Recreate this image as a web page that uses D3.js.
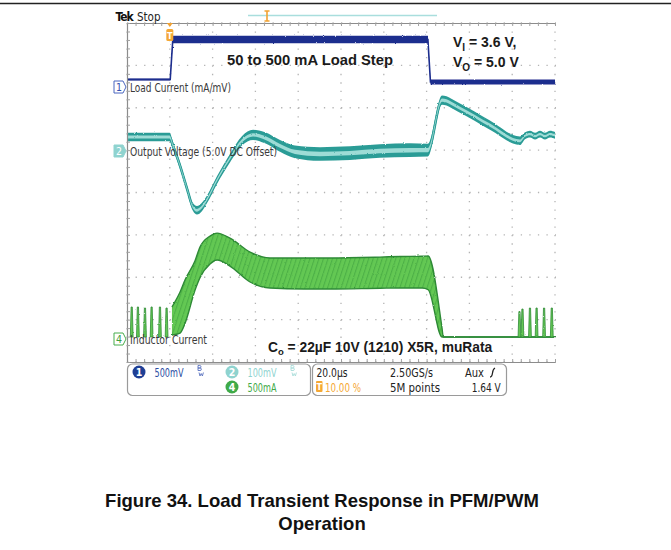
<!DOCTYPE html>
<html><head><meta charset="utf-8">
<script src="https://cdn.jsdelivr.net/npm/d3@7"></script>
<style>
html,body{margin:0;padding:0;background:#fff;}
svg{display:block;}
</style></head><body>
<svg id="c" width="671" height="550"></svg>
<script>
// ---------------- DATA ----------------
// time in µs (20 µs/div, trigger at 10 %)
// Channel 1 : load current (mA)
const ch1Time    = [-19.5, 0.2, 1.4, 120.6, 121.8, 180];
const ch1Current = [88, 88, 560, 560, 59, 59];
const ch1Noise   = [12, 12, 45, 45, 30, 30];
// Channel 2 : output voltage deviation from 5.0 V (mV)
const ch2Time  = [-19.5, -0.1, 1.5, 4.8, 8.0, 10.8, 12.7, 15.0, 17.4, 22.1, 28.1, 33.7, 38.9, 44.5, 51.5, 58.5, 70.2, 84.2, 98.2, 112.2, 120.6, 127.2, 135.6, 149.6, 163.6, 166.0, 168.3, 170.7, 173.0, 175.3, 177.7, 180];
const ch2Volt  = [33, 33, 12, -35, -88, -132, -140, -132, -114, -68, -17, 24, 38, 31, 12, -2, -7, -5, 0, 2, 2, 120, 101, 61, 24, 36, 40, 35, 40, 35, 40, 37];
const ch2Noise = [10, 10, 9, 8, 8, 9, 10, 10, 9, 9, 10, 11, 12, 13, 14, 15, 16, 16, 16, 16, 15, 11, 11, 11, 10, 8, 8, 8, 8, 8, 8, 8];
// Channel 4 : inductor current envelope (mA)
const ch4Time  = [1.0, 4.8, 7.1, 11.8, 14.1, 18.8, 22.1, 28.1, 37.5, 46.8, 62.7, 74.9, 98.2, 107.6, 117.9, 120.7, 127.2, 127.8, 180];
const ch4Upper = [354, 531, 672, 900, 1061, 1191, 1226, 1167, 1002, 932, 932, 932, 943, 950, 953, 955, 106, 0, 0];
const ch4Lower = [24, 47, 160, 554, 700, 861, 908, 837, 649, 578, 566, 566, 575, 578, 578, 560, 0, 0, 0];
// PFM pulses of the inductor current (time µs, peak mA)
const pfmTime = [-17.8, -14.9, -11.6, -8.5, -4.6, -1.5, 163.4, 164.8, 168.3, 171.4, 174.9, 178.5];
const pfmPeak = [354, 354, 342, 354, 354, 342, 300, 330, 342, 342, 342, 342];
// Readout texts
const chanIds    = ["1", "2", "4"];
const chanScales = ["500mV", "100mV", "500mA"];
const acqTexts   = ["20.0µs", "2.50GS/s", "5M points", "1.64 V"];

// ---------------- LAYOUT ----------------
const svg = d3.select("#c");
const X0 = 127, X1 = 555, Y0 = 23, Y1 = 362;
const divV = (Y1 - Y0) / 8;
const x = d3.scaleLinear().domain([-20, 180]).range([X0, X1]);
const gy = d3.scaleLinear().domain([-4, 4]).range([Y1, Y0]);
const y1 = d3.scaleLinear().domain([0, 500]).range([87, 87 - divV]);
const y2 = d3.scaleLinear().domain([0, 100]).range([151, 151 - divV]);
const y4 = d3.scaleLinear().domain([0, 500]).range([337, 337 - divV]);

const defs = svg.append("defs");
const f = defs.append("filter").attr("id", "rough").attr("x", "-5%").attr("y", "-10%").attr("width", "110%").attr("height", "120%");
f.append("feTurbulence").attr("type", "fractalNoise").attr("baseFrequency", "1.1").attr("numOctaves", 1).attr("seed", 4).attr("result", "n");
f.append("feDisplacementMap").attr("in", "SourceGraphic").attr("in2", "n").attr("scale", 2.2).attr("xChannelSelector", "R").attr("yChannelSelector", "G");
const pat = defs.append("pattern").attr("id", "hatch").attr("width", 4.3).attr("height", 8)
  .attr("patternUnits", "userSpaceOnUse").attr("patternTransform", "rotate(18)");
pat.append("rect").attr("width", 4.3).attr("height", 8).attr("fill", "#63c853");
pat.append("line").attr("x1", 0.6).attr("x2", 0.6).attr("y1", 0).attr("y2", 8).attr("stroke", "#48ab44").attr("stroke-width", 0.9);

// top rule
svg.append("line").attr("x1", 0).attr("x2", 671).attr("y1", 3.5).attr("y2", 3.5).attr("stroke", "#222").attr("stroke-width", 1.5);

// ---------------- GRID ----------------
const grid = svg.append("g");
grid.selectAll("line.v").data(d3.range(0, 11)).join("line")
  .attr("x1", k => x(-20 + 20 * k)).attr("x2", k => x(-20 + 20 * k))
  .attr("y1", Y0).attr("y2", Y1 + 1)
  .attr("stroke", "#b4b4b4").attr("stroke-width", 1.3)
  .attr("stroke-dasharray", `1.3 ${divV / 5 - 1.3}`);
grid.selectAll("line.h").data(d3.range(-4, 5)).join("line")
  .attr("x1", X0).attr("x2", X1 + 1)
  .attr("y1", k => gy(k)).attr("y2", k => gy(k))
  .attr("stroke", "#b4b4b4").attr("stroke-width", 1.3)
  .attr("stroke-dasharray", `1.3 ${(X1 - X0) / 50 - 1.3}`);

// borders with minor ticks via d3 axes
const minorT = d3.range(-20, 180.01, 4);
const topAx = svg.append("g").attr("transform", `translate(0,${Y0})`)
  .call(d3.axisBottom(x).tickValues(minorT).tickSize(3).tickSizeOuter(0).tickFormat(""));
const botAx = svg.append("g").attr("transform", `translate(0,${Y1})`)
  .call(d3.axisTop(x).tickValues(minorT).tickSize(3).tickSizeOuter(0).tickFormat(""));
const leftAx = svg.append("g").attr("transform", `translate(${X0},0)`)
  .call(d3.axisRight(gy).tickValues(d3.range(-4, 4.01, 0.2)).tickSize(3).tickSizeOuter(0).tickFormat(""));
[topAx, botAx, leftAx].forEach(a => {
  a.select(".domain").attr("stroke", "#8c8c8c").attr("stroke-width", 1.2);
  a.selectAll(".tick line").attr("stroke", "#a0a0a0");
});

// ---------------- TRACES ----------------
// Channel 4 (green)
const g4 = svg.append("g").attr("filter", "url(#rough)");
const ch4 = ch4Time.map((t, i) => ({t, u: ch4Upper[i], l: ch4Lower[i]}));
g4.append("path").datum(ch4)
  .attr("d", d3.area().x(d => x(d.t)).y0(d => y4(d.l)).y1(d => y4(d.u)).curve(d3.curveMonotoneX))
  .attr("fill", "url(#hatch)");
["u", "l"].forEach(k => g4.append("path").datum(ch4)
  .attr("d", d3.line().x(d => x(d.t)).y(d => y4(d[k])).curve(d3.curveMonotoneX))
  .attr("fill", "none").attr("stroke", "#2e8a36").attr("stroke-width", 1.4));
const pfm = pfmTime.map((t, i) => ({t, p: pfmPeak[i]}));
g4.selectAll("path.pfm").data(pfm).join("path")
  .attr("d", d => `M${x(d.t) - 1.4},${y4(0)} L${x(d.t) - 0.6},${y4(d.p)} L${x(d.t) + 0.6},${y4(d.p)} L${x(d.t) + 1.4},${y4(0)} Z`)
  .attr("fill", "#63c853").attr("stroke", "#2e8a36").attr("stroke-width", 0.8);

// Channel 2 (teal)
const g2 = svg.append("g").attr("filter", "url(#rough)");
const ch2 = ch2Time.map((t, i) => ({t, v: ch2Volt[i], n: ch2Noise[i]}));
g2.append("path").datum(ch2)
  .attr("d", d3.area().x(d => x(d.t)).y0(d => y2(d.v - d.n)).y1(d => y2(d.v + d.n)).curve(d3.curveMonotoneX))
  .attr("fill", "#2c9c96");
g2.append("path").datum(ch2)
  .attr("d", d3.line().x(d => x(d.t)).y(d => y2(d.v)).curve(d3.curveMonotoneX))
  .attr("fill", "none").attr("stroke", "#2c9c96").attr("stroke-width", 2.6);
g2.append("path").datum(ch2)
  .attr("d", d3.area().x(d => x(d.t)).y0(d => y2(d.v - d.n * 0.33)).y1(d => y2(d.v + d.n * 0.33)).curve(d3.curveMonotoneX))
  .attr("fill", "#9edcd6");

// Channel 1 (navy)
const g1 = svg.append("g").attr("filter", "url(#rough)");
const ch1 = ch1Time.map((t, i) => ({t, v: ch1Current[i], n: ch1Noise[i]}));
g1.append("path").datum(ch1)
  .attr("d", d3.area().x(d => x(d.t)).y0(d => y1(d.v - d.n)).y1(d => y1(d.v + d.n)))
  .attr("fill", "#1f2f8e");
g1.append("path").datum(ch1)
  .attr("d", d3.line().x(d => x(d.t)).y(d => y1(d.v)))
  .attr("fill", "none").attr("stroke", "#1f2f8e").attr("stroke-width", 1.6);

// ---------------- SCOPE ANNOTATIONS ----------------
const cond = "'DejaVu Sans Condensed','DejaVu Sans',sans-serif";
function label(s, xx, yy, w, size, color, weight) {
  const t = svg.append("text").attr("x", xx).attr("y", yy).text(s)
    .attr("font-family", cond).attr("font-size", size).attr("fill", color);
  if (weight) t.attr("font-weight", weight);
  if (w) t.attr("textLength", w).attr("lengthAdjust", "spacingAndGlyphs");
  return t;
}
// Tek Stop (single text element)
const tek = svg.append("text").attr("x", 115.5).attr("y", 20.5).attr("font-family", cond).attr("fill", "#111");
tek.append("tspan").attr("font-size", 12).attr("font-weight", "bold").attr("letter-spacing", -1).text("Tek");
tek.append("tspan").attr("font-size", 11.5).attr("x", 137).attr("fill", "#222").text("Stop");
// record bar
svg.append("line").attr("x1", 248).attr("x2", 437).attr("y1", 15.5).attr("y2", 15.5).attr("stroke", "#a9dedd").attr("stroke-width", 1.5);
svg.append("path").attr("d", "M264.5,11 h5 M267,11 v10 M264.5,21 h5").attr("stroke", "#f2a232").attr("stroke-width", 1.6).attr("fill", "none");
// trigger markers
svg.append("path").attr("d", `M${x(0) - 3},${Y0} L${x(0) + 3},${Y0} L${x(0)},${Y0 + 4} Z`).attr("fill", "#f2a232");
svg.append("rect").attr("x", x(0) - 3.5).attr("y", 29).attr("width", 7).attr("height", 12).attr("rx", 1.5).attr("fill", "#f5a834");
svg.append("text").attr("x", x(0)).attr("y", 38.5).attr("text-anchor", "middle").attr("font-family", cond)
  .attr("font-size", 9).attr("font-weight", "bold").attr("fill", "#fff").text("T");

// channel markers
function marker(id, yy, stroke, fill, txtCol) {
  svg.append("path").attr("d", `M114,${yy - 6} h9 l3,6 l-3,6 h-9 Z`)
    .attr("fill", fill).attr("stroke", stroke).attr("stroke-width", 1);
  svg.append("text").attr("x", 119).attr("y", yy + 4).attr("text-anchor", "middle")
    .attr("font-family", cond).attr("font-size", 10.5).attr("fill", txtCol).text(id);
}
marker(chanIds[0], y1(0), "#4a67c0", "#fff", "#3350b0");
marker(chanIds[1], y2(0), "#8fd3cf", "#8fd3cf", "#fff");
marker(chanIds[2], y4(0) + 2, "#47ad4d", "#fff", "#3a9e40");
label("Load Current (mA/mV)", 130, y1(0) + 4.5, 101, 12.5, "#3a3a3a");
label("Output Voltage (5.0V DC Offset)", 130, y2(0) + 4.5, 147, 12.5, "#3a3a3a");
label("Inductor Current", 130, y4(0) + 6.5, 77, 12.5, "#3a3a3a");

// bold annotations
const arial = "'Liberation Sans',Arial,sans-serif";
svg.append("text").attr("x", 227).attr("y", 65).attr("font-family", arial).attr("font-weight", "bold")
  .attr("font-size", 15).attr("fill", "#1a1a1a").attr("textLength", 166).attr("lengthAdjust", "spacingAndGlyphs")
  .text("50 to 500 mA Load Step");
const vi = svg.append("text").attr("x", 453).attr("y", 47).attr("font-family", arial).attr("font-weight", "bold")
  .attr("font-size", 14).attr("fill", "#1a1a1a");
vi.append("tspan").text("V");
vi.append("tspan").attr("font-size", 10).attr("dy", 4).text("I");
vi.append("tspan").attr("dy", -4).text(" = 3.6 V,");
const vo = svg.append("text").attr("x", 453).attr("y", 67).attr("font-family", arial).attr("font-weight", "bold")
  .attr("font-size", 14).attr("fill", "#1a1a1a");
vo.append("tspan").text("V");
vo.append("tspan").attr("font-size", 10).attr("dy", 4).text("O");
vo.append("tspan").attr("dy", -4).text(" = 5.0 V");
const co = svg.append("text").attr("x", 268).attr("y", 352).attr("font-family", arial).attr("font-weight", "bold")
  .attr("font-size", 13.8).attr("fill", "#1a1a1a");
co.append("tspan").text("C");
co.append("tspan").attr("font-size", 9.5).attr("dy", 3).text("o");
co.append("tspan").attr("dy", -3).text(" = 22µF 10V (1210) X5R, muRata");

// ---------------- READOUT BOXES ----------------
svg.append("rect").attr("x", 127.5).attr("y", 364).attr("width", 183).attr("height", 31.5).attr("rx", 5)
  .attr("fill", "none").attr("stroke", "#9a9a9a").attr("stroke-width", 1.2);
svg.append("rect").attr("x", 312.5).attr("y", 364).attr("width", 194).attr("height", 31.5).attr("rx", 5)
  .attr("fill", "none").attr("stroke", "#9a9a9a").attr("stroke-width", 1.2);
const chanPos = [[139, 372], [232, 372], [232, 387]];
const chanFill = ["#1f3f95", "#8fd3cf", "#3faa48"];
const chanText = ["#2b4ea3", "#8fd3cf", "#3faa48"];
chanIds.forEach((id, i) => {
  const [cx, cy] = chanPos[i];
  svg.append("circle").attr("cx", cx).attr("cy", cy).attr("r", 6.5).attr("fill", chanFill[i]);
  svg.append("text").attr("x", cx).attr("y", cy + 4).attr("text-anchor", "middle").attr("font-family", cond)
    .attr("font-size", 10.5).attr("font-weight", "bold").attr("fill", "#fff").text(id);
  label(chanScales[i], cx + 15.5, cy + 5, 29, 13, chanText[i]);
});
// bandwidth-limit icons (drawn, not text)
[[198, "#5a73c0"], [291, "#a8dcd9"]].forEach(([bx, col]) => {
  svg.append("path")
    .attr("d", `M${bx},365.5 v5 h2 q1.4,0 1.4,-1.25 q0,-1.25 -1.4,-1.25 h-2 m0,0 h1.8 q1.2,0 1.2,-1.25 q0,-1.25 -1.2,-1.25 h-1.8 M${bx + 1},372.5 l1,3.5 l1.2,-2.5 l1.2,2.5 l1,-3.5`)
    .attr("fill", "none").attr("stroke", col).attr("stroke-width", 0.9);
});
label(acqTexts[0], 316.5, 377, 31, 13, "#222");
label(acqTexts[1], 390, 377, 43, 13, "#222");
label(acqTexts[2], 390, 392, 50, 13, "#222");
label("Aux", 465, 377, 19, 13, "#222");
svg.append("path").attr("d", "M490,377 q2,0 2.5,-4 t2.5,-5").attr("fill", "none").attr("stroke", "#222").attr("stroke-width", 1.3);
label(acqTexts[3], 471.7, 392, 29, 13, "#222");
svg.append("rect").attr("x", 316).attr("y", 381).attr("width", 6.5).attr("height", 11).attr("rx", 1).attr("fill", "#f5a834");
svg.append("text").attr("x", 319.2).attr("y", 390).attr("text-anchor", "middle").attr("font-family", cond)
  .attr("font-size", 9).attr("font-weight", "bold").attr("fill", "#fff").text("T");
label("10.00 %", 325, 392, 36, 13, "#f5a834");

// ---------------- CAPTION ----------------
svg.append("text").attr("x", 322).attr("y", 507).attr("text-anchor", "middle").attr("font-family", arial)
  .attr("font-weight", "bold").attr("font-size", 18.5).attr("fill", "#111")
  .text("Figure 34. Load Transient Response in PFM/PWM");
svg.append("text").attr("x", 322).attr("y", 530).attr("text-anchor", "middle").attr("font-family", arial)
  .attr("font-weight", "bold").attr("font-size", 18.5).attr("fill", "#111")
  .text("Operation");
</script>
</body></html>
